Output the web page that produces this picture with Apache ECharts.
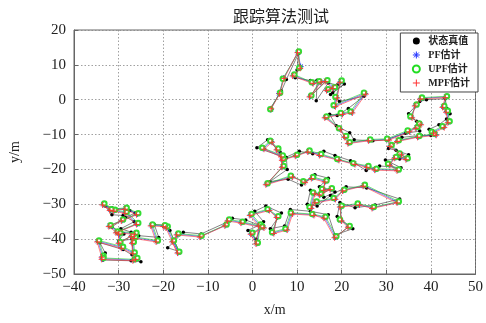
<!DOCTYPE html>
<html>
<head>
<meta charset="utf-8">
<script src="https://cdn.jsdelivr.net/npm/echarts@6/dist/echarts.min.js"></script>
<style>
  html, body { margin: 0; padding: 0; background: #fff; }
  #chart { width: 486px; height: 323px; }
</style>
</head>
<body>
<div id="chart"></div>
<script>
// 状态真值
const truePts = [
  [4.0,-2.5],[6.5,2.5],[7.6,5.8],[10.3,13.2],[10.0,8.5],[9.6,6.3],[13.0,5.5],[14.5,5.6],[14.3,-0.3],[17.0,4.8],
  [19.0,4.2],[17.5,1.5],[20.6,4.5],[18.0,2.0],[19.5,-0.5],[25.0,1.0],[21.5,-2.5],[19.0,-4.5],[17.3,-4.2],[18.8,-7.5],
  [21.8,-9.5],[22.8,-11.5],[27.0,-11.8],[30.0,-11.5],[34.3,-9.6],[37.5,-9.0],[36.8,-6.2],[35.0,-4.0],[37.5,-0.5],[39.0,0.0],
  [43.2,0.3],[43.6,-2.5],[44.3,-4.0],[43.5,-5.5],[41.8,-7.2],[39.6,-8.5],[40.0,-10.3],[37.8,-10.2],[33.5,-10.8],[30.5,-14.0],
  [32.2,-14.5],[35.0,-15.8],[33.0,-17.0],[29.8,-17.3],[33.3,-19.5],[28.5,-19.0],[25.5,-20.3],[22.0,-17.5],[18.5,-16.0],[16.0,-14.8],
  [13.5,-15.5],[10.5,-14.8],[7.5,-16.5],[6.2,-15.0],[3.4,-11.5],[1.0,-13.8],[7.6,-16.7],[7.8,-20.0],[3.9,-23.5],[8.0,-22.8],
  [11.0,-24.5],[14.0,-21.5],[17.0,-22.5],[15.0,-25.0],[18.5,-26.5],[16.0,-28.0],[13.0,-26.0],[12.3,-30.0],[14.5,-30.5],[17.5,-27.5],
  [21.0,-25.0],[25.6,-25.3],[33.0,-28.5],[27.5,-30.2],[23.0,-31.0],[19.6,-29.5],[19.0,-33.5],[22.5,-37.0],[18.5,-38.8],[17.0,-33.0],
  [13.0,-32.0],[8.5,-31.5],[7.2,-36.2],[4.0,-37.0],[6.5,-32.5],[3.0,-30.5],[0.5,-32.0],[2.5,-35.0],[0.8,-40.0],[-1.0,-37.5],
  [1.5,-36.0],[-1.5,-34.5],[-4.5,-34.0],[-5.5,-35.0],[-11.5,-38.5],[-15.5,-38.0],[-19.0,-42.5],[-16.5,-43.5],[-18.5,-37.5],[-19.5,-36.0],
  [-22.0,-35.8],[-21.0,-39.5],[-25.5,-39.0],[-27.0,-39.8],[-27.2,-38.0],[-29.5,-37.0],[-26.5,-35.0],[-29.0,-33.2],[-31.5,-33.0],[-33.0,-30.5],
  [-31.5,-31.0],[-27.5,-31.8],[-26.3,-32.5],[-28.5,-33.8],[-31.5,-36.5],[-28.8,-38.5],[-30.0,-40.5],[-26.8,-40.0],[-27.0,-44.5],[-29.0,-43.0],
  [-34.2,-41.0],[-33.0,-44.0],[-33.5,-46.0],[-27.2,-46.2],[-25.0,-46.5]
];
// PF估计
const pfPts = [
  [4.1,-2.8],[6.0,1.8],[7.0,6.2],[10.2,13.6],[10.8,9.5],[9.2,7.0],[13.5,4.8],[15.2,5.0],[13.0,1.0],[16.5,5.4],
  [18.2,3.4],[16.8,2.8],[19.8,5.2],[18.8,0.6],[18.4,-1.8],[25.2,1.8],[22.2,-3.6],[20.0,-4.0],[16.4,-5.0],[19.6,-8.4],
  [20.8,-10.6],[21.6,-12.4],[26.2,-11.6],[30.4,-11.4],[35.0,-9.0],[36.8,-8.0],[37.6,-7.0],[35.6,-5.0],[36.6,-1.6],[37.8,0.4],
  [43.4,0.8],[42.8,-2.0],[43.6,-3.4],[44.0,-6.4],[42.8,-7.8],[40.4,-9.4],[41.0,-10.0],[37.2,-10.6],[32.6,-11.8],[31.0,-13.2],
  [33.2,-15.6],[34.6,-17.0],[32.0,-16.6],[30.6,-18.6],[32.6,-20.2],[27.6,-20.0],[25.8,-19.2],[22.8,-18.4],[19.2,-17.2],[15.2,-15.8],
  [12.6,-14.8],[9.8,-16.0],[6.8,-17.2],[5.6,-14.2],[4.2,-12.0],[2.4,-14.0],[6.6,-16.2],[6.8,-19.2],[3.2,-24.2],[8.8,-22.0],
  [11.6,-23.6],[13.4,-22.4],[16.4,-23.4],[15.8,-25.8],[17.6,-25.6],[15.2,-27.2],[13.8,-26.8],[13.0,-31.0],[14.2,-29.4],[18.4,-28.4],
  [20.4,-26.0],[25.0,-24.6],[32.6,-29.4],[27.0,-31.0],[23.8,-30.0],[19.8,-30.6],[19.8,-34.6],[21.6,-36.4],[18.6,-39.4],[16.2,-33.8],
  [13.6,-33.0],[8.8,-32.6],[7.6,-37.2],[4.6,-38.2],[5.6,-33.6],[3.6,-31.6],[-0.4,-33.0],[1.6,-36.0],[1.0,-41.2],[-0.2,-38.4],
  [2.4,-36.6],[-2.4,-35.2],[-5.4,-34.6],[-6.0,-36.0],[-11.6,-39.2],[-16.8,-38.6],[-17.8,-40.6],[-16.6,-43.8],[-19.2,-36.6],[-19.8,-36.2],
  [-22.6,-36.0],[-21.4,-40.6],[-26.4,-39.6],[-26.8,-41.0],[-26.2,-38.4],[-30.4,-38.0],[-25.8,-35.6],[-28.4,-32.4],[-31.0,-31.8],[-33.4,-30.0],
  [-31.8,-31.6],[-28.4,-31.2],[-25.8,-32.8],[-29.2,-34.6],[-32.0,-36.2],[-29.8,-38.4],[-29.8,-41.0],[-27.0,-39.0],[-26.6,-44.0],[-29.2,-42.4],
  [-34.6,-40.6],[-33.6,-45.0],[-33.6,-45.6],[-26.6,-46.0],[-26.0,-45.6]
];
// UPF估计
const upfPts = [
  [4.0,-2.7],[6.2,2.0],[6.8,6.0],[10.4,13.8],[10.5,9.2],[9.4,7.2],[13.3,5.0],[15.0,5.3],[13.2,1.2],[16.8,5.6],
  [18.5,3.6],[17.0,3.0],[20.0,5.5],[18.6,0.8],[18.2,-1.6],[25.0,2.0],[22.0,-3.4],[19.8,-3.8],[16.6,-4.8],[19.4,-8.2],
  [21.0,-10.4],[21.8,-12.2],[26.4,-11.4],[30.2,-11.2],[34.8,-8.8],[37.0,-7.8],[37.4,-6.8],[35.4,-4.8],[36.8,-1.4],[38.0,0.6],
  [43.6,1.0],[43.0,-1.8],[43.8,-3.2],[44.2,-6.2],[42.6,-7.6],[40.2,-9.2],[40.8,-9.8],[37.4,-10.4],[32.8,-11.6],[31.2,-13.0],
  [33.0,-15.4],[34.8,-16.8],[32.2,-16.4],[30.4,-18.4],[32.8,-20.0],[27.8,-19.8],[26.0,-19.0],[22.6,-18.2],[19.0,-17.0],[15.4,-15.6],
  [12.8,-14.6],[10.0,-15.8],[7.0,-17.0],[5.8,-14.0],[4.0,-11.8],[2.2,-13.8],[6.8,-16.0],[7.0,-19.0],[3.4,-24.0],[8.6,-21.8],
  [11.4,-23.4],[13.6,-22.2],[16.6,-23.2],[15.6,-25.6],[17.8,-25.4],[15.4,-27.0],[13.6,-26.6],[12.8,-30.8],[14.4,-29.2],[18.2,-28.2],
  [20.6,-25.8],[25.2,-24.4],[32.8,-29.2],[27.2,-30.8],[23.6,-29.8],[20.0,-30.4],[19.6,-34.4],[21.8,-36.2],[18.8,-39.2],[16.4,-33.6],
  [13.4,-32.8],[8.6,-32.4],[7.4,-37.0],[4.4,-38.0],[5.8,-33.4],[3.4,-31.4],[-0.2,-32.8],[1.8,-35.8],[1.2,-41.0],[0.0,-38.2],
  [2.2,-36.4],[-2.2,-35.0],[-5.2,-34.4],[-5.8,-35.8],[-11.4,-39.0],[-16.6,-38.4],[-17.6,-40.4],[-16.4,-43.6],[-19.0,-36.4],[-19.6,-36.0],
  [-22.4,-35.8],[-21.2,-40.4],[-26.2,-39.4],[-26.6,-40.8],[-26.0,-38.2],[-30.2,-37.8],[-25.6,-35.4],[-28.2,-32.2],[-30.8,-31.6],[-33.2,-29.8],
  [-31.6,-31.4],[-28.2,-31.0],[-25.6,-32.6],[-29.0,-34.4],[-31.8,-36.0],[-29.6,-38.2],[-29.6,-40.8],[-26.8,-38.8],[-26.4,-43.8],[-29.0,-42.2],
  [-34.4,-40.4],[-33.4,-44.8],[-33.4,-45.4],[-26.4,-45.8],[-25.8,-45.4]
];
// MPF估计
const mpfPts = [
  [4.2,-2.6],[6.1,1.7],[7.1,6.1],[10.1,13.5],[10.7,9.0],[9.0,6.8],[13.6,4.6],[15.4,5.1],[12.8,0.8],[16.3,5.2],
  [18.0,3.2],[16.6,2.6],[19.6,5.0],[19.0,0.5],[18.6,-2.0],[25.4,1.6],[22.4,-3.8],[20.2,-4.2],[16.2,-5.2],[19.8,-8.6],
  [20.6,-10.8],[21.4,-12.6],[26.0,-11.8],[30.6,-11.6],[35.2,-9.2],[36.6,-8.2],[37.8,-7.2],[35.8,-5.2],[36.4,-1.8],[37.6,0.2],
  [43.2,0.6],[42.6,-2.2],[43.4,-3.6],[43.8,-6.6],[43.0,-8.0],[40.6,-9.6],[41.2,-10.2],[37.0,-10.8],[32.4,-12.0],[30.8,-13.4],
  [33.4,-15.8],[34.4,-17.2],[31.8,-16.8],[30.8,-18.8],[32.4,-20.4],[27.4,-20.2],[25.6,-19.4],[23.0,-18.6],[19.4,-17.4],[15.0,-16.0],
  [12.4,-15.0],[9.6,-16.2],[6.6,-17.4],[5.4,-14.4],[4.4,-12.2],[2.6,-14.2],[6.4,-16.4],[6.6,-19.4],[3.0,-24.4],[9.0,-22.2],
  [11.8,-23.8],[13.2,-22.6],[16.2,-23.6],[16.0,-26.0],[17.4,-25.8],[15.0,-27.4],[14.0,-27.0],[13.2,-31.2],[14.0,-29.6],[18.6,-28.6],
  [20.2,-26.2],[24.8,-24.8],[32.4,-29.6],[26.8,-31.2],[24.0,-30.2],[19.6,-30.8],[20.0,-34.8],[21.4,-36.6],[18.4,-39.6],[16.0,-34.0],
  [13.8,-33.2],[9.0,-32.8],[7.8,-37.4],[4.8,-38.4],[5.4,-33.8],[3.8,-31.8],[-0.6,-33.2],[1.4,-36.2],[0.8,-41.4],[-0.4,-38.6],
  [2.6,-36.8],[-2.6,-35.4],[-5.6,-34.8],[-6.2,-36.2],[-11.8,-39.4],[-17.0,-38.8],[-18.0,-40.8],[-16.8,-44.0],[-19.4,-36.8],[-20.0,-36.4],
  [-22.8,-36.2],[-21.6,-40.8],[-26.6,-39.8],[-27.0,-41.2],[-26.4,-38.6],[-30.6,-38.2],[-26.0,-35.8],[-28.6,-32.6],[-31.2,-32.0],[-33.6,-30.2],
  [-32.0,-31.8],[-28.6,-31.4],[-26.0,-33.0],[-29.4,-34.8],[-32.2,-36.4],[-30.0,-38.6],[-30.0,-41.2],[-27.2,-39.2],[-26.8,-44.2],[-29.4,-42.6],
  [-34.8,-40.8],[-33.8,-45.2],[-33.8,-45.8],[-26.8,-46.2],[-26.2,-45.8]
];

const seriesNames = ['状态真值', 'PF估计', 'UPF估计', 'MPF估计'];
const xRange = [-40, 50];
const yRange = [-50, 20];

const serif = "'Liberation Serif', 'Noto Sans CJK SC', serif";
const plusPath = 'path://M0,5L10,5M5,0L5,10';
const starPath = 'path://M5,0L5,10M0,5L10,5M1.5,1.5L8.5,8.5M8.5,1.5L1.5,8.5';

function minus(v) {
  return v < 0 ? '\u2212' + (-v) : String(v);
}

const chart = echarts.init(document.getElementById('chart'), null, { renderer: 'canvas' });

const axisCommon = {
  type: 'value',
  interval: 10,
  nameLocation: 'middle',
  nameTextStyle: { fontSize: 14, color: '#222', fontFamily: serif },
  axisLine: { show: true, onZero: false, lineStyle: { color: '#666' } },
  axisTick: { show: true, inside: true, length: 4, lineStyle: { color: '#666' } },
  splitLine: { show: true, lineStyle: { color: '#888', type: [1.5, 2], width: 0.8 } }
};

chart.setOption({
  backgroundColor: '#fff',
  animation: false,
  title: {
    text: '跟踪算法测试',
    left: 276,
    top: 3,
    textAlign: 'center',
    textStyle: { fontSize: 16, fontWeight: 'normal', color: '#222', fontFamily: "'Noto Sans CJK SC', sans-serif" }
  },
  legend: {
    orient: 'vertical',
    right: 8,
    top: 33,
    padding: [3, 8, 3, 10],
    itemGap: 3,
    itemWidth: 14,
    itemHeight: 7,
    borderColor: '#444',
    borderWidth: 1,
    borderRadius: 0,
    backgroundColor: '#fff',
    textStyle: { fontSize: 10, fontWeight: 'bold', color: '#222', fontFamily: serif },
    data: [
      { name: seriesNames[0], icon: 'circle', itemStyle: { color: '#000' } },
      { name: seriesNames[1], icon: starPath, itemStyle: { color: 'none', borderColor: '#2233ff', borderWidth: 1 } },
      { name: seriesNames[2], icon: 'emptyCircle', itemStyle: { color: '#22dd22', borderColor: '#22dd22', borderWidth: 1 } },
      { name: seriesNames[3], icon: plusPath, itemStyle: { color: 'none', borderColor: '#ff3333', borderWidth: 1 } }
    ]
  },
  grid: {
    left: 74,
    right: 7,
    top: 30,
    bottom: 49,
    show: true,
    borderColor: '#666',
    borderWidth: 1
  },
  xAxis: Object.assign({}, axisCommon, {
    min: xRange[0],
    max: xRange[1],
    name: 'x/m',
    nameGap: 29,
    axisLabel: { fontSize: 15, color: '#222', fontFamily: serif, margin: 6, formatter: minus }
  }),
  yAxis: Object.assign({}, axisCommon, {
    min: yRange[0],
    max: yRange[1],
    name: 'y/m',
    nameGap: 52,
    axisLabel: { fontSize: 15, color: '#222', fontFamily: serif, margin: 8, formatter: minus }
  }),
  series: [
    {
      name: seriesNames[0],
      type: 'line',
      data: truePts,
      symbol: 'circle',
      symbolSize: 3.5,
      itemStyle: { color: '#000' },
      lineStyle: { color: '#333', width: 0.6 },
      z: 2
    },
    {
      name: seriesNames[1],
      type: 'line',
      data: pfPts,
      symbol: starPath,
      symbolSize: 6,
      itemStyle: { color: 'none', borderColor: '#2233ff', borderWidth: 1 },
      lineStyle: { color: '#2233ff', width: 0.6 },
      z: 3
    },
    {
      name: seriesNames[2],
      type: 'line',
      data: upfPts,
      symbol: 'emptyCircle',
      symbolSize: 4.5,
      itemStyle: { color: '#33dd33', borderColor: '#33dd33', borderWidth: 0.7 },
      lineStyle: { color: '#22cc22', width: 0.6 },
      z: 4
    },
    {
      name: seriesNames[3],
      type: 'line',
      data: mpfPts,
      symbol: plusPath,
      symbolSize: 6,
      itemStyle: { color: 'none', borderColor: '#ff3333', borderWidth: 0.9 },
      lineStyle: { color: '#ff3333', width: 0.6 },
      z: 5
    }
  ]
});
</script>
</body>
</html>
